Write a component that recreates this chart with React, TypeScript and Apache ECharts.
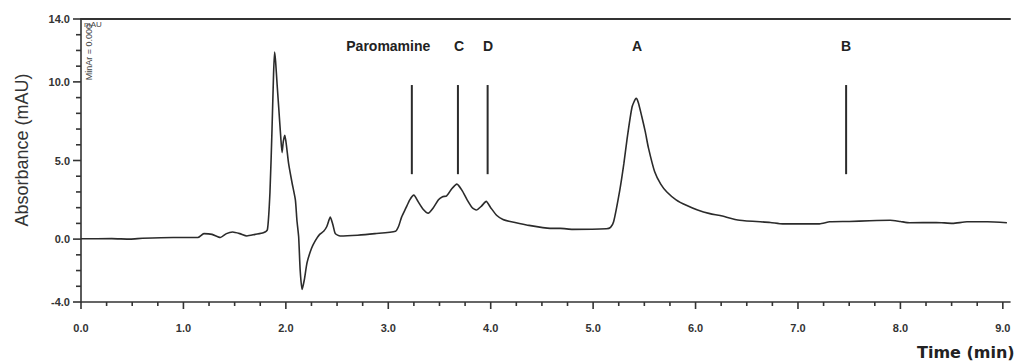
import React, { useEffect, useRef } from "react";
import * as echarts from "echarts";

// Chromatogram trace: retention time (min) and absorbance (mAU)
const traceTimes = [
  0.0, 0.3, 0.48, 0.6, 0.9, 1.14, 1.2, 1.28, 1.36, 1.42, 1.48, 1.55, 1.62, 1.7, 1.78, 1.82,
  1.845, 1.865, 1.88, 1.89, 1.9, 1.915, 1.93, 1.95, 1.963, 1.975, 1.99, 2.005, 2.027, 2.06,
  2.093, 2.108, 2.125, 2.14, 2.158, 2.18, 2.207, 2.25, 2.288, 2.33, 2.369, 2.4, 2.434, 2.46,
  2.483, 2.53, 2.7, 2.87, 3.07, 3.1, 3.13, 3.17, 3.21, 3.25, 3.29, 3.34, 3.39, 3.44, 3.49,
  3.53, 3.57, 3.62, 3.67, 3.72, 3.77, 3.82, 3.86, 3.91, 3.956, 4.0, 4.06, 4.12, 4.19, 4.35,
  4.58, 4.68, 4.8, 5.13, 5.17, 5.2, 5.26, 5.3, 5.33, 5.38, 5.42, 5.44, 5.475, 5.51, 5.54,
  5.6, 5.66, 5.72, 5.81, 5.91, 6.02, 6.14, 6.24, 6.43, 6.73, 6.85, 7.21, 7.31, 7.5, 7.7,
  7.9, 8.0, 8.09, 8.35, 8.51, 8.65, 8.85, 9.04,
];
const traceValues = [
  0.02, 0.03, 0.0, 0.05, 0.1, 0.1, 0.35, 0.3, 0.1, 0.35, 0.45, 0.35, 0.2, 0.3, 0.4, 0.6,
  3.0, 7.0, 10.5, 11.9, 11.3, 9.8, 8.4, 6.5, 5.5, 6.2, 6.6, 6.0, 4.8, 3.6,
  2.5, 1.2, 0.15, -2.0, -3.2, -2.6, -1.5, -0.6, -0.1, 0.3, 0.5, 0.8, 1.4, 0.9,
  0.35, 0.2, 0.25, 0.35, 0.5, 0.8, 1.4, 1.95, 2.5, 2.8, 2.4, 1.9, 1.65, 2.0, 2.5,
  2.7, 2.75, 3.2, 3.5, 3.1, 2.5, 2.0, 1.85, 2.1, 2.4, 2.0, 1.5, 1.25, 1.12, 0.9,
  0.68, 0.68, 0.62, 0.66, 0.75, 1.1, 3.1, 4.8, 6.3, 8.4, 8.95, 8.7, 7.8, 6.8, 5.8,
  4.3, 3.5, 3.0, 2.5, 2.15, 1.85, 1.62, 1.5, 1.2, 1.06, 0.97, 0.97, 1.1, 1.12, 1.17,
  1.2, 1.12, 1.04, 1.06, 1.0, 1.1, 1.1, 1.04,
];

// Peak annotations
const peakNames = ["Paromamine", "C", "D", "A", "B"];
const peakLabelTimes = [3.0, 3.69, 3.975, 5.43, 7.47];
const peakLabelLevel = 12.3;

// Vertical retention markers
const markerTimes = [3.23, 3.68, 3.97, 7.47];
const markerBottom = 4.13;
const markerTop = 9.8;

// Axis ranges, labelled ticks and unlabelled tick positions
const xMin = 0;
const xMax = 9.07;
const yMin = -4;
const yMax = 14;
const xTickLabels = [0, 1, 2, 3, 4, 5, 6, 7, 8, 9];
const yTickLabels = [-4, 0, 5, 10, 14];
const xMinorTicks = [
  0.25, 0.5, 0.75, 1.25, 1.5, 1.75, 2.25, 2.5, 2.75, 3.25, 3.5, 3.75, 4.25, 4.5, 4.75,
  5.25, 5.5, 5.75, 6.25, 6.5, 6.75, 7.25, 7.5, 7.75, 8.25, 8.5, 8.75,
];
const yMinorTicks = [-3, -2, -1, 1, 2, 3, 4, 6, 7, 8, 9, 11, 12, 13];

const ink = "#2b2b2b";
const axisInk = "#333333";
const labelFont = "Liberation Sans, Arial, sans-serif";

export default function App() {
  const ref = useRef<HTMLDivElement>(null);

  useEffect(() => {
    if (!ref.current) return;
    const chart = echarts.init(ref.current, undefined, { renderer: "svg" });

    const xTickSeries = (ticks: number[], len: number, name: string) => ({
      name,
      type: "custom",
      xAxisIndex: 0,
      clip: false,
      silent: true,
      data: ticks.map((v) => [v, yMin]),
      renderItem: (_p: any, api: any) => {
        const p = api.coord([api.value(0), api.value(1)]);
        return {
          type: "line",
          shape: { x1: p[0], y1: p[1], x2: p[0], y2: p[1] + len },
          style: { stroke: axisInk, lineWidth: 1.6 },
        };
      },
    });
    const yTickSeries = (ticks: number[], len: number, name: string) => ({
      name,
      type: "custom",
      xAxisIndex: 0,
      clip: false,
      silent: true,
      data: ticks.map((v) => [xMin, v]),
      renderItem: (_p: any, api: any) => {
        const p = api.coord([api.value(0), api.value(1)]);
        return {
          type: "line",
          shape: { x1: p[0] - len, y1: p[1], x2: p[0], y2: p[1] },
          style: { stroke: axisInk, lineWidth: 1.6 },
        };
      },
    });

    const option = {
      animation: false,
      backgroundColor: "#ffffff",
      grid: { left: 81, top: 19, width: 929, height: 283 },
      xAxis: [
        {
          type: "value",
          min: xMin,
          max: xMax,
          interval: 1,
          axisLine: { show: true, onZero: false, lineStyle: { color: axisInk, width: 1.6 } },
          axisTick: { show: false },
          axisLabel: {
            margin: 20,
            fontSize: 11,
            fontWeight: "bold",
            fontFamily: labelFont,
            color: "#333",
            formatter: (v: number) =>
              xTickLabels.some((t) => Math.abs(t - v) < 1e-9) ? v.toFixed(1) : "",
          },
          splitLine: { show: false },
        },
        {
          type: "value",
          position: "top",
          min: xMin,
          max: xMax,
          axisLine: { show: true, onZero: false, lineStyle: { color: axisInk, width: 2 } },
          axisTick: { show: false },
          axisLabel: { show: false },
          splitLine: { show: false },
        },
      ],
      yAxis: {
        type: "value",
        min: yMin,
        max: yMax,
        interval: 1,
        axisLine: { show: true, onZero: false, lineStyle: { color: axisInk, width: 1.6 } },
        axisTick: { show: false },
        axisLabel: {
          margin: 11,
          fontSize: 11,
          fontWeight: "bold",
          fontFamily: labelFont,
          color: "#333",
          formatter: (v: number) =>
            yTickLabels.some((t) => Math.abs(t - v) < 1e-9) ? v.toFixed(1) : "",
        },
        splitLine: { show: false },
      },
      series: [
        {
          name: "trace",
          type: "line",
          xAxisIndex: 0,
          data: traceTimes.map((t, i) => [t, traceValues[i]]),
          showSymbol: false,
          smooth: 0.2,
          lineStyle: { color: ink, width: 1.6 },
          z: 3,
        },
        {
          name: "markers",
          type: "custom",
          xAxisIndex: 0,
          data: markerTimes.map((t) => [t, markerBottom, markerTop]),
          renderItem: (_p: any, api: any) => {
            const a = api.coord([api.value(0), api.value(1)]);
            const b = api.coord([api.value(0), api.value(2)]);
            return {
              type: "line",
              shape: { x1: a[0], y1: a[1], x2: b[0], y2: b[1] },
              style: { stroke: ink, lineWidth: 2 },
            };
          },
        },
        {
          name: "peak labels",
          type: "custom",
          xAxisIndex: 0,
          data: peakLabelTimes.map((t, i) => [t, peakLabelLevel, i]),
          renderItem: (_p: any, api: any) => {
            const p = api.coord([api.value(0), api.value(1)]);
            return {
              type: "text",
              x: p[0],
              y: p[1],
              style: {
                text: peakNames[api.value(2)],
                fill: "#222",
                font: "bold 14px " + labelFont,
                align: "center",
                verticalAlign: "middle",
              },
            };
          },
        },
        xTickSeries(xTickLabels, 7, "x major ticks"),
        xTickSeries(xMinorTicks, 4, "x minor ticks"),
        yTickSeries(yTickLabels, 8, "y major ticks"),
        yTickSeries(yMinorTicks, 5, "y minor ticks"),
      ],
      graphic: [
        {
          type: "text",
          x: 22,
          y: 150,
          rotation: Math.PI / 2,
          style: {
            text: "Absorbance (mAU)",
            fill: "#333",
            font: "18px " + labelFont,
            align: "center",
            verticalAlign: "middle",
          },
        },
        {
          type: "text",
          left: 917,
          top: 344,
          style: {
            text: "Time (min)",
            fill: "#222",
            font: "bold 16px 'DejaVu Sans', sans-serif",
          },
        },
        {
          type: "text",
          x: 84,
          y: 24,
          style: {
            text: "mAU",
            fill: "#444",
            font: "8px " + labelFont,
            align: "left",
            verticalAlign: "middle",
          },
        },
        {
          type: "text",
          x: 89,
          y: 24,
          rotation: Math.PI / 2,
          style: {
            text: "MinAr = 0.000",
            fill: "#444",
            font: "9px " + labelFont,
            align: "right",
            verticalAlign: "middle",
          },
        },
      ],
    };

    chart.setOption(option as any);
    return () => chart.dispose();
  }, []);

  return (
    <div
      ref={ref}
      style={{ position: "absolute", left: 0, top: 0, width: 1018, height: 364 }}
    />
  );
}
